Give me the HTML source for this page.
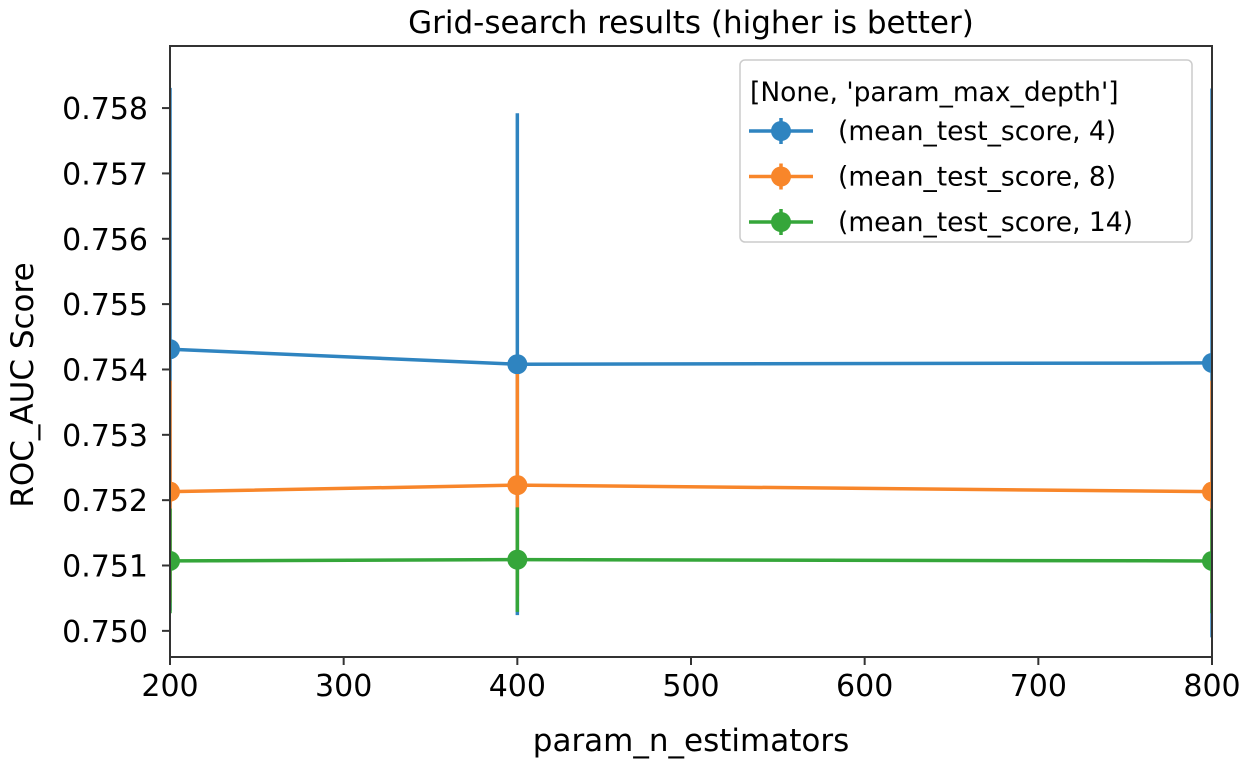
<!DOCTYPE html>
<html><head><meta charset="utf-8">
<style>
html,body{margin:0;padding:0;background:#fff;}
svg{display:block;font-family:"DejaVu Sans","Liberation Sans",sans-serif;}
</style></head>
<body>
<svg id="chart" width="1240" height="766" viewBox="0 0 1240 766">
<defs><clipPath id="clip"><rect x="171" y="46" width="1041" height="611"/></clipPath></defs>
<text x="691" y="33" text-anchor="middle" font-size="31" fill="#000">Grid-search results (higher is better)</text>
<g id="series" clip-path="url(#clip)"></g>
<rect x="170" y="46" width="1042" height="611" fill="none" stroke="#333" stroke-width="2"/>
<g id="axes"></g>
<text x="691" y="751" text-anchor="middle" font-size="31" fill="#000">param_n_estimators</text>
<text transform="translate(33,385) rotate(-90)" text-anchor="middle" font-size="31" fill="#000">ROC_AUC Score</text>
<g>
<rect x="740" y="60" width="452" height="182" rx="5" fill="#fff" fill-opacity="0.9" stroke="#ccc" stroke-width="1.5"/>
<text x="750" y="101" font-size="26.5" fill="#000">[None, 'param_max_depth']</text>
<g id="legend-entries"></g>
</g>
</svg>
<script>
const xValues = [200, 400, 800];
const seriesLabels = ["(mean_test_score, 4)", "(mean_test_score, 8)", "(mean_test_score, 14)"];
const seriesColors = ["#2f84c0", "#f8862a", "#35a63a"];
const depth4 = [0.75431, 0.75408, 0.75410];
const depth8 = [0.75213, 0.75223, 0.75213];
const depth14 = [0.75107, 0.75109, 0.75107];
const err4 = [0.0040, 0.00384, 0.0042];
const err8 = [0.0017, 0.0017, 0.0017];
const err14 = [0.0008, 0.0008, 0.0008];
const xTicks = [200, 300, 400, 500, 600, 700, 800];
const yTicks = [0.750, 0.751, 0.752, 0.753, 0.754, 0.755, 0.756, 0.757, 0.758];

const NS = "http://www.w3.org/2000/svg";
const X0 = 170, X1 = 1212, Y0 = 657, Y1 = 46;
const xMin = 200, xMax = 800, yMin = 0.74960, yMax = 0.75895;
function xs(v){ return X0 + (v - xMin) / (xMax - xMin) * (X1 - X0); }
function ys(v){ return Y0 - (v - yMin) / (yMax - yMin) * (Y0 - Y1); }
function mk(tag, attrs, parent){ const e = document.createElementNS(NS, tag); for (const k in attrs) e.setAttribute(k, attrs[k]); parent.appendChild(e); return e; }

const axes = document.getElementById('axes');
xTicks.forEach(t => {
  const l = mk('line', {x1: xs(t), x2: xs(t), y1: Y0, y2: Y0 + 8, stroke: '#333', 'stroke-width': 2}, axes);
  
  
  const tx = mk('text', {x: xs(t), y: Y0 + 39, 'text-anchor': 'middle', 'font-size': 30, fill: '#000'}, axes);
  tx.textContent = t;
  
  
});
yTicks.forEach(t => {
  const l = mk('line', {x1: X0 - 8, x2: X0, y1: ys(t), y2: ys(t), stroke: '#333', 'stroke-width': 2}, axes);
  
  
  const tx = mk('text', {x: X0 - 22, y: ys(t) + 11, 'text-anchor': 'end', 'font-size': 30, fill: '#000'}, axes);
  tx.textContent = t.toFixed(3);
  
  
});

const allVals = [depth4, depth8, depth14];
const allErr = [err4, err8, err14];
const sg = document.getElementById('series');
allVals.forEach((vals, si) => {
  const g = mk('g', {}, sg);
  
  
  const c = seriesColors[si];
  vals.forEach((v, i) => {
    const e = mk('line', {x1: xs(xValues[i]), x2: xs(xValues[i]), y1: ys(v - allErr[si][i]), y2: ys(v + allErr[si][i]), stroke: c, 'stroke-width': 3.5}, g);
    
    
  });
  const p = mk('polyline', {points: vals.map((v, i) => xs(xValues[i]) + ',' + ys(v)).join(' '), fill: 'none', stroke: c, 'stroke-width': 3.5}, g);
  
  
  vals.forEach((v, i) => {
    const m = mk('circle', {cx: xs(xValues[i]), cy: ys(v), r: 10, fill: c}, g);
    
    
  });
});

const lg = document.getElementById('legend-entries');
seriesLabels.forEach((lab, i) => {
  const y = 131 + i * 45.5;
  const g = mk('g', {}, lg);
  
  
  mk('line', {x1: 749, x2: 813, y1: y, y2: y, stroke: seriesColors[i], 'stroke-width': 3.5}, g);
  mk('line', {x1: 781, x2: 781, y1: y - 13, y2: y + 13, stroke: seriesColors[i], 'stroke-width': 3.5}, g);
  mk('circle', {cx: 781, cy: y, r: 10, fill: seriesColors[i]}, g);
  const t = mk('text', {x: 838, y: y + 9, 'font-size': 26.5, fill: '#000'}, g);
  t.textContent = lab;
});
</script>
</body></html>
